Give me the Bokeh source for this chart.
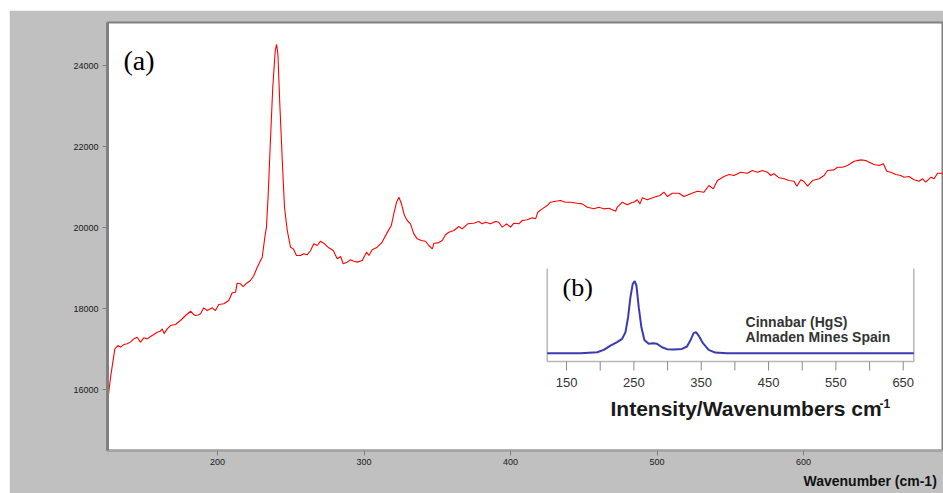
from bokeh.plotting import figure
from bokeh.models import Range1d, FixedTicker, Label, ColumnDataSource, Title
from bokeh.core.properties import value
from bokeh.embed import file_html
from bokeh.resources import INLINE

# ---------------- main spectrum (a) ----------------
main_wn = [125.0, 127.0, 129.9, 132.0, 133.8, 136.0, 138.4, 140.5, 142.9, 145.2, 147.4, 149.7,
           152.0, 154.3, 156.5, 158.8, 161.0, 162.3, 163.5, 165.7, 167.9, 171.3, 174.7, 178.2,
           181.6, 183.5, 185.0, 186.8, 188.4, 190.6, 193.0, 194.8, 196.4, 198.6, 200.9, 204.3,
           207.7, 210.0, 212.3, 213.4, 215.7, 217.5, 219.8, 222.5, 224.8, 227.1, 228.9, 230.5,
           232.3, 233.4, 234.6, 236.2, 237.7, 239.4, 240.3, 241.2, 242.5, 244.2, 245.7, 247.6,
           249.8, 251.7, 253.9, 256.7, 258.9, 261.2, 263.5, 265.7, 268.1, 270.3, 273.0, 276.0,
           279.0, 281.7, 284.0, 285.8, 288.5, 290.8, 293.0, 295.4, 298.8, 301.7, 303.3, 305.6,
           309.0, 312.0, 315.9, 318.6, 320.3, 322.2, 323.8, 325.4, 327.6, 329.5, 331.7, 334.0,
           336.3, 339.0, 342.0, 344.2, 346.6, 347.7, 350.4, 353.4, 355.6, 357.9, 361.3, 364.7,
           367.0, 370.8, 374.9, 378.4, 380.6, 382.9, 386.3, 389.8, 392.0, 394.3, 397.3, 400.0,
           402.3, 405.7, 408.0, 411.4, 414.8, 417.1, 418.6, 421.6, 425.0, 427.3, 430.7, 434.1,
           437.5, 441.0, 445.5, 448.9, 452.4, 456.9, 460.3, 461.4, 463.7, 467.1, 470.5, 471.7,
           472.8, 476.3, 479.7, 483.1, 484.2, 486.5, 488.3, 490.0, 493.4, 497.9, 502.0, 504.7,
           507.0, 510.4, 514.9, 518.4, 522.9, 527.5, 532.0, 535.4, 538.4, 541.2, 545.7, 549.1,
           552.5, 557.1, 561.6, 565.0, 568.5, 571.9, 575.3, 577.6, 579.8, 583.3, 586.7, 590.1,
           593.5, 595.4, 598.1, 600.3, 602.7, 606.1, 610.6, 614.0, 616.3, 620.8, 623.1, 626.5,
           630.0, 634.5, 639.0, 642.5, 644.7, 648.1, 651.5, 654.5, 656.8, 659.5, 662.9, 666.3,
           668.6, 672.0, 675.4, 678.8, 681.2, 683.4, 686.9, 689.1, 691.4, 694.8, 696.0]
main_int = [15700, 16304, 17005, 17086, 17045, 17110, 17128, 17170, 17251, 17292, 17168, 17276,
            17250, 17309, 17360, 17415, 17440, 17498, 17380, 17498, 17580, 17605, 17704, 17827,
            17933, 17860, 17827, 17840, 17869, 18017, 17951, 17990, 18017, 17951, 18099, 18116,
            18198, 18388, 18403, 18625, 18610, 18543, 18625, 18690, 18815, 19020, 19150, 19267,
            19761, 20008, 20831, 22230, 23465, 24370, 24519, 24289, 23054, 21654, 20501, 19926,
            19514, 19473, 19309, 19309, 19350, 19325, 19432, 19597, 19556, 19662, 19597, 19499,
            19432, 19227, 19284, 19104, 19145, 19202, 19169, 19145, 19185, 19391, 19309, 19449,
            19514, 19620, 19880, 20049, 20338, 20625, 20748, 20600, 20296, 20173, 20091, 19843,
            19720, 19679, 19660, 19556, 19473, 19612, 19620, 19679, 19820, 19884, 19926, 20025,
            19967, 20091, 20107, 20148, 20091, 20131, 20091, 20148, 20131, 20008, 20091, 20008,
            20107, 20091, 20173, 20190, 20239, 20214, 20378, 20461, 20543, 20625, 20649, 20667,
            20625, 20625, 20600, 20584, 20501, 20461, 20501, 20486, 20461, 20477, 20420, 20403,
            20501, 20625, 20560, 20625, 20625, 20684, 20584, 20733, 20684, 20748, 20790, 20872,
            20765, 20847, 20847, 20765, 20831, 20897, 20872, 21037, 20955, 21160, 21259, 21309,
            21284, 21366, 21341, 21407, 21366, 21407, 21366, 21284, 21326, 21227, 21202, 21160,
            21144, 21020, 21178, 21136, 21020, 21160, 21202, 21284, 21407, 21424, 21489, 21489,
            21531, 21637, 21670, 21654, 21613, 21556, 21531, 21572, 21390, 21366, 21309, 21284,
            21242, 21259, 21178, 21144, 21202, 21119, 21242, 21202, 21341, 21341, 21330]

main_x_ticks = [200, 300, 400, 500, 600]
main_y_ticks = [16000, 18000, 20000, 22000, 24000]

# ---------------- inset spectrum (b) ----------------
inset_wn = [121.3, 170.8, 195.5, 205.3, 215.2, 225.1, 232.5, 237.5, 241.4, 244.9, 248.3, 251.3,
            253.8, 257.2, 261.2, 265.6, 272.0, 278.5, 284.4, 291.8, 299.2, 309.1, 321.4, 328.9,
            333.8, 338.7, 342.2, 346.1, 352.6, 361.0, 370.8, 388.1, 665.7]
inset_int = [0, 0, 1.4, 4.6, 10.6, 15.3, 19.9, 29.2, 50, 77.8, 96.3, 100,
             94, 64, 36, 18.5, 13, 13.9, 13, 8.3, 5.6, 5.1, 6, 9.3,
             17.6, 27.8, 29.2, 24.5, 13.9, 4.6, 0.9, 0, 0]
inset_tick_marks = [150, 200, 250, 300, 350, 400, 450, 500, 550, 600, 650]
inset_tick_labels = [150, 250, 350, 450, 550, 650]
inset_x_bounds = [121.3, 665.7]
inset_y_bounds = [-11.5, 117.6]

p = figure(width=934, height=483, output_backend="svg", toolbar_location=None,
           x_range=Range1d(124.9, 695.5), y_range=Range1d(14494, 25062),
           min_border_left=98, min_border_top=12, min_border_bottom=43, min_border_right=0)
p.margin = (10, 0, 0, 9)
p.extra_x_ranges = {"ix": Range1d(-531.7, 709.8)}
p.extra_y_ranges = {"iy": Range1d(-135.1, 459.3)}

p.border_fill_color = "#c0c0c0"
p.background_fill_color = "white"
p.outline_line_color = "#808080"
p.outline_line_width = 2
p.grid.visible = False

for ax in (p.xaxis[0], p.yaxis[0]):
    ax.minor_tick_line_color = None
    ax.major_tick_in = 0
    ax.major_tick_out = 5
    ax.major_tick_line_color = "#808080"
    ax.major_label_text_font = "Liberation Sans"
    ax.major_label_text_font_size = "9px"
    ax.major_label_text_color = "#1a1a1a"
p.xaxis.ticker = FixedTicker(ticks=main_x_ticks)
p.yaxis.ticker = FixedTicker(ticks=main_y_ticks)
p.xaxis.axis_line_color = "#a6a6a6"
p.xaxis.axis_line_width = 2
p.xaxis.major_label_standoff = 3
p.yaxis.axis_line_color = "#808080"
p.yaxis.axis_line_width = 3
p.yaxis.major_label_standoff = 4

# x-axis title placed at the lower right, as in the original
p.add_layout(Title(text="Wavenumber (cm-1)", align="left", offset=696,
                   text_font="Liberation Sans", text_font_size="14px",
                   text_font_style="bold", text_color="#111111", standoff=6), "below")

# main red spectrum
p.line(main_wn, main_int, line_color="#ff0000", line_width=1.1)

# inset frame
p.line([inset_x_bounds[0], inset_x_bounds[0], inset_x_bounds[1], inset_x_bounds[1]],
       [inset_y_bounds[1], inset_y_bounds[0], inset_y_bounds[0], inset_y_bounds[1]],
       line_color="#b8b8b8", line_width=1.5, x_range_name="ix", y_range_name="iy")
# inset ticks
p.segment(x0=inset_tick_marks, y0=[inset_y_bounds[0]] * len(inset_tick_marks),
          x1=inset_tick_marks, y1=[-24] * len(inset_tick_marks),
          line_color="#8a8a8a", line_width=1, x_range_name="ix", y_range_name="iy")
# inset spectrum
p.line(inset_wn, inset_int, line_color="#3b3bb0", line_width=2,
       x_range_name="ix", y_range_name="iy")
# inset tick labels
src = ColumnDataSource(dict(x=inset_tick_labels, y=[-40.3] * len(inset_tick_labels),
                            t=[str(v) for v in inset_tick_labels]))
p.text(x="x", y="y", text="t", source=src, text_font=value("Liberation Sans"),
       text_font_size="13px", text_color="#333333", text_align="center",
       text_baseline="middle", x_range_name="ix", y_range_name="iy")

def lab(x, y, text, font, size, style="normal", color="#111111", xr="default", yr="default",
        align="left"):
    p.add_layout(Label(x=x, y=y, text=text, text_font=font, text_font_size=size,
                       text_font_style=style, text_color=color, text_baseline="middle",
                       text_align=align, x_range_name=xr, y_range_name=yr))

lab(135.8, 24136, "(a)", "Liberation Serif", "28px", color="#000000")
lab(144, 91, "(b)", "Liberation Serif", "26px", color="#000000", xr="ix", yr="iy")
lab(415.8, 43, "Cinnabar (HgS)", "Liberation Sans", "14px", "bold", "#333333", "ix", "iy")
lab(415.8, 22.2, "Almaden Mines Spain", "Liberation Sans", "14px", "bold", "#333333", "ix", "iy")
lab(215.3, -77.2, "Intensity/Wavenumbers cm", "Liberation Sans", "21px", "bold", "#1a1a1a", "ix", "iy")
lab(614.8, -70, "-1", "Liberation Sans", "12px", "bold", "#1a1a1a", "ix", "iy")

open("out.html", "w").write(file_html(p, INLINE))
